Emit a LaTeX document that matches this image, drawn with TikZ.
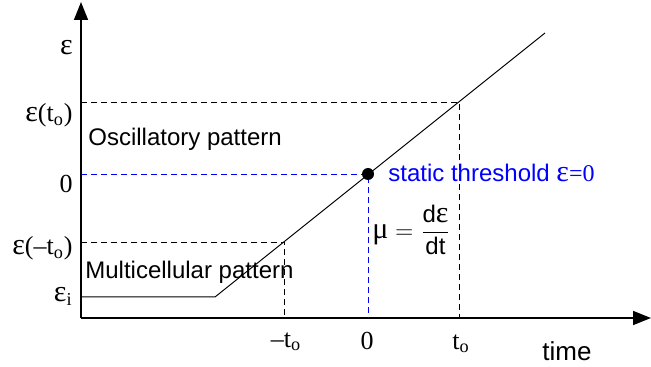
\documentclass[tikz,border=0pt]{standalone}
\usepackage{fontspec}
\setmainfont{Liberation Sans}
\newfontfamily\serf{Liberation Serif}
\usetikzlibrary{arrows.meta}
\newcommand{\eps}{{\fontsize{15}{15}\selectfont ε}}
\tikzset{
  ax/.style={line width=0.75pt, -{Triangle[length=9pt,width=7pt]}},
  ramp/.style={line width=0.5pt},
  guide/.style={dash pattern=on 3pt off 2pt, line width=0.4pt},
  zero/.style={guide, draw=blue},
  tick/.style={font=\serf\fontsize{13}{13}\selectfont, inner sep=0pt},
  txt/.style={font=\fontsize{12}{12}\selectfont, inner sep=0pt},
}

\begin{document}
\begin{tikzpicture}[x=0.5pt,y=-0.5pt]
  \useasboundingbox (0,0) rectangle (651,367);
  % axes and ramp
  \coordinate (o) at (81,318);
  \coordinate (ytop) at (81,2);
  \coordinate (xend) at (651,318);
  \coordinate (ei) at (81,297);
  \coordinate (knee) at (215,297);
  \coordinate (top) at (545,33);
  \coordinate (pm) at (284,242.5);
  \coordinate (pz) at (368,174);
  \coordinate (pp) at (459,102);
  \draw[ax] (o) -- (ytop);
  \draw[ax] (o) -- (xend);
  \draw[ramp] (ei) -- (knee) -- (top);
  % guide lines
  \draw[guide] (pm -| o) -- (pm) -- (pm |- o);
  \draw[guide] (pp -| o) -- (pp) -- (pp |- o);
  \draw[zero] (pz -| o) -- (pz) -- (pz |- o);
  \fill (pz) circle (3pt);
  % y labels
  \node[tick, anchor=base east] (leps) at (73,55) {\eps};
  \node[tick, anchor=base east] (lep) at (73,122) {\eps(t\textsubscript{o})};
  \node[tick, anchor=base east] (lzero) at (73,193) {0};
  \node[tick, anchor=base east] (lem) at (73,255) {\eps(–t\textsubscript{o})};
  \node[tick, anchor=base east] (lei) at (73,302) {\eps\textsubscript{i}};
  % x labels
  \node[tick, anchor=base] (xm) at (286,347) {–t\textsubscript{o}};
  \node[tick, anchor=base] (xz) at (367,349) {0};
  \node[tick, anchor=base] (xp) at (461,349) {t\textsubscript{o}};
  \node[txt, anchor=base, font=\fontsize{13}{13}\selectfont] (ltime) at (567,360) {time};
  % regions and slope
  \node[txt, anchor=base west] (osc) at (88,146) {Oscillatory pattern};
  \node[txt, anchor=base west] (mul) at (85,279) {Multicellular pattern};
  \node[txt, anchor=base west, text=blue] (thr) at (388,182) {static threshold {\serf\eps=0}};
  \node[txt, anchor=west] (mu) at (372,230)
    {$\mbox{\serf\fontsize{15}{15}\selectfont μ} = \displaystyle\frac{\mbox{d\serf\eps}}{\mbox{dt}}$};
\end{tikzpicture}
\end{document}
